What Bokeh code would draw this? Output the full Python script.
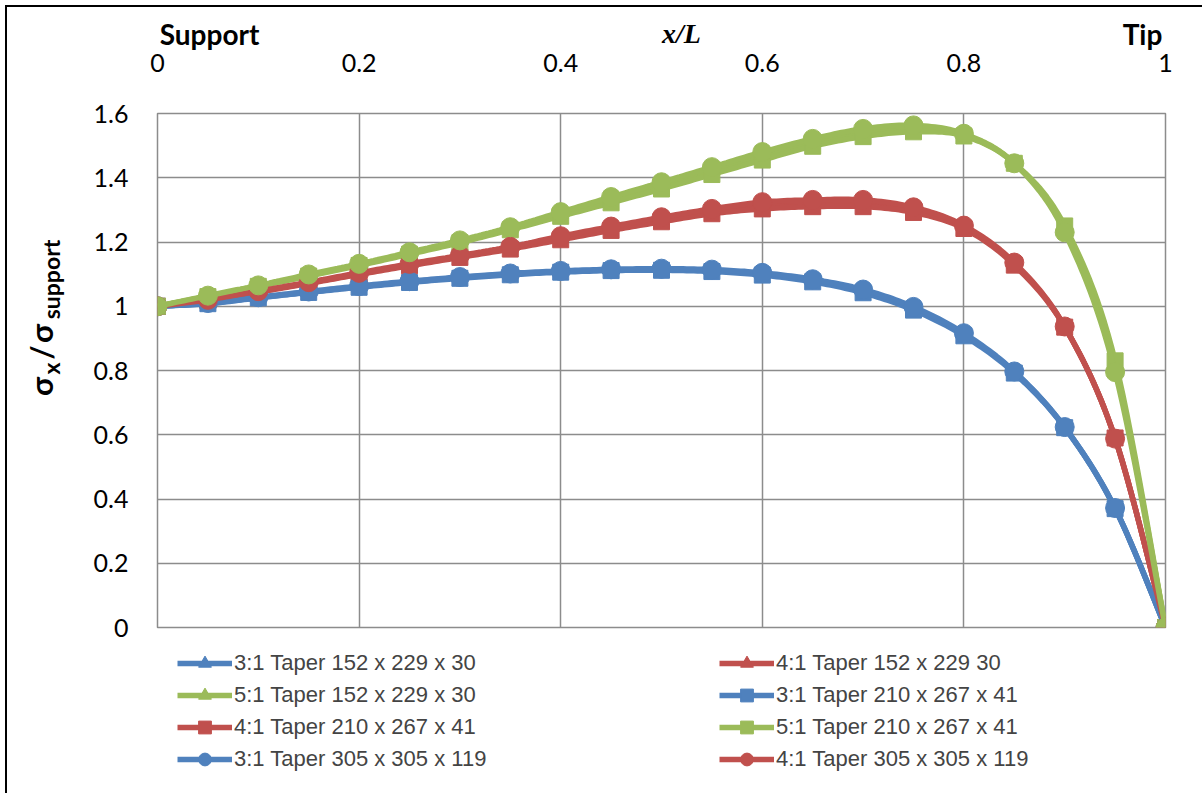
import numpy as np
from bokeh.plotting import figure
from bokeh.models import Range1d, FixedTicker, Legend, LegendItem, LinearAxis
from bokeh.embed import file_html
from bokeh.resources import INLINE

# ---------------- data ----------------
x_ratio = [0.0, 0.05, 0.10, 0.15, 0.20, 0.25, 0.30, 0.35, 0.40, 0.45, 0.50,
           0.55, 0.60, 0.65, 0.70, 0.75, 0.80, 0.85, 0.90, 0.95, 1.0]

taper3_152 = [1.000, 1.009, 1.027, 1.044, 1.061, 1.076, 1.089, 1.100, 1.108, 1.113, 1.114,
              1.111, 1.100, 1.080, 1.047, 0.993, 0.912, 0.795, 0.623, 0.371, 0.0]
taper4_152 = [1.000, 1.019, 1.045, 1.073, 1.101, 1.129, 1.155, 1.181, 1.212, 1.242, 1.270,
              1.295, 1.313, 1.320, 1.320, 1.300, 1.246, 1.132, 0.936, 0.589, 0.0]
taper5_152 = [1.000, 1.031, 1.063, 1.096, 1.129, 1.165, 1.201, 1.242, 1.286, 1.330, 1.375,
              1.420, 1.467, 1.510, 1.540, 1.553, 1.533, 1.445, 1.240, 0.812, 0.0]
taper3_210 = [1.000, 1.008, 1.026, 1.043, 1.059, 1.074, 1.087, 1.098, 1.106, 1.111, 1.112,
              1.108, 1.097, 1.076, 1.042, 0.988, 0.908, 0.792, 0.622, 0.370, 0.0]
taper4_210 = [1.000, 1.018, 1.044, 1.071, 1.099, 1.126, 1.152, 1.178, 1.207, 1.236, 1.263,
              1.288, 1.303, 1.310, 1.310, 1.292, 1.242, 1.128, 0.935, 0.590, 0.0]
taper5_210 = [1.000, 1.030, 1.062, 1.094, 1.127, 1.162, 1.198, 1.238, 1.280, 1.322, 1.365,
              1.410, 1.455, 1.498, 1.528, 1.543, 1.530, 1.445, 1.250, 0.830, 0.0]
taper3_305 = [1.000, 1.010, 1.028, 1.046, 1.063, 1.078, 1.091, 1.102, 1.110, 1.115, 1.117,
              1.114, 1.104, 1.084, 1.052, 0.998, 0.916, 0.797, 0.624, 0.372, 0.0]
taper4_305 = [1.000, 1.020, 1.047, 1.075, 1.104, 1.132, 1.158, 1.185, 1.218, 1.248, 1.277,
              1.303, 1.324, 1.331, 1.331, 1.308, 1.251, 1.136, 0.937, 0.588, 0.0]
taper5_305 = [1.000, 1.033, 1.065, 1.099, 1.132, 1.168, 1.205, 1.246, 1.293, 1.340, 1.386,
              1.433, 1.480, 1.521, 1.552, 1.563, 1.537, 1.445, 1.230, 0.795, 0.0]

series_names = ["3:1 Taper 152 x 229 x 30", "4:1 Taper 152 x 229 30", "5:1 Taper 152 x 229 x 30",
                "3:1 Taper 210 x 267 x 41", "4:1 Taper 210 x 267 x 41", "5:1 Taper 210 x 267 x 41",
                "3:1 Taper 305 x 305 x 119", "4:1 Taper 305 x 305 x 119", "5:1 Taper 305 x 305 x 119"]
series_values = [taper3_152, taper4_152, taper5_152,
                 taper3_210, taper4_210, taper5_210,
                 taper3_305, taper4_305, taper5_305]

x_ticks = [0, 0.2, 0.4, 0.6, 0.8, 1]
x_tick_labels = ["0", "0.2", "0.4", "0.6", "0.8", "1"]
y_ticks = [0, 0.2, 0.4, 0.6, 0.8, 1, 1.2, 1.4, 1.6]
y_tick_labels = ["0", "0.2", "0.4", "0.6", "0.8", "1", "1.2", "1.4", "1.6"]

# ---------------- styles ----------------
BLUE, RED, GREEN = "#4F81BD", "#C0504D", "#9BBB59"
colors = [BLUE, RED, GREEN] * 3
markers = ["triangle"] * 3 + ["square"] * 3 + ["circle"] * 3
marker_sizes = [15] * 3 + [16] * 3 + [19] * 3
GRID = "#8C8C8C"
TICK_FONT = "Lato"


def smooth(xs, ys, n=14):
    """Excel-like smoothed line (cubic Bezier through the points)."""
    xs = np.asarray(xs, float)
    ys = np.asarray(ys, float)
    px = np.concatenate([[xs[0]], xs, [xs[-1]]])
    py = np.concatenate([[ys[0]], ys, [ys[-1]]])
    ox, oy = [], []
    t = np.linspace(0, 1, n, endpoint=False)
    for i in range(1, len(px) - 2):
        x0, x1, x2, x3 = px[i - 1], px[i], px[i + 1], px[i + 2]
        y0, y1, y2, y3 = py[i - 1], py[i], py[i + 1], py[i + 2]
        c1x, c1y = x1 + (x2 - x0) / 6, y1 + (y2 - y0) / 6
        c2x, c2y = x2 - (x3 - x1) / 6, y2 - (y3 - y1) / 6
        a = (1 - t) ** 3
        b = 3 * (1 - t) ** 2 * t
        c = 3 * (1 - t) * t ** 2
        d = t ** 3
        ox.extend(a * x1 + b * c1x + c * c2x + d * x2)
        oy.extend(a * y1 + b * c1y + c * c2y + d * y2)
    ox.append(xs[-1])
    oy.append(ys[-1])
    return ox, oy


# pixel (in the reference picture) -> data helpers, for placing texts
def xpix(px):
    return (px - 157) / 1008


def ypix(py):
    return (627 - py) / 321.25


p = figure(frame_width=1008, frame_height=514,
           min_border_left=150, min_border_right=37, min_border_top=106, min_border_bottom=164,
           x_range=Range1d(0, 1), y_range=Range1d(0, 1.6),
           x_axis_location="above",
           output_backend="svg", toolbar_location=None)
p.styles = {"margin-left": "5px", "margin-top": "5px",
            "border-left": "2px solid black", "border-top": "2px solid black"}
p.background_fill_color = "white"
p.border_fill_color = "white"
p.outline_line_color = GRID
p.outline_line_width = 1.5

# grid
for g in (p.xgrid, p.ygrid):
    g.grid_line_color = GRID
    g.grid_line_width = 1.5
p.xgrid.ticker = FixedTicker(ticks=x_ticks)
p.ygrid.ticker = FixedTicker(ticks=y_ticks)


def plain(ax):
    ax.axis_line_color = None
    ax.major_tick_line_color = None
    ax.minor_tick_line_color = None
    ax.major_tick_out = 0
    ax.major_tick_in = 0
    ax.minor_tick_out = 0
    ax.minor_tick_in = 0
    ax.major_label_text_color = "black"


# main axes
xa = p.xaxis[0]
xa.ticker = FixedTicker(ticks=x_ticks)
xa.major_label_overrides = dict(zip(x_ticks, x_tick_labels))
ya = p.yaxis[0]
ya.ticker = FixedTicker(ticks=y_ticks)
ya.major_label_overrides = dict(zip(y_ticks, y_tick_labels))
for ax in (xa, ya):
    plain(ax)
    ax.major_label_text_font = TICK_FONT
    ax.major_label_text_font_size = "25px"
xa.major_label_standoff = 42
ya.major_label_standoff = 29

# "Support" / "Tip" row above the x tick labels
end_pos = [xpix(209), xpix(1142)]
end_labels = ["Support", "Tip"]
xa2 = LinearAxis(ticker=FixedTicker(ticks=end_pos),
                 major_label_overrides=dict(zip(end_pos, end_labels)))
plain(xa2)
xa2.major_label_text_font = "Lato"
xa2.major_label_text_font_style = "bold"
xa2.major_label_text_font_size = "28px"
xa2.major_label_standoff = 0
p.add_layout(xa2, "above")

# axis title x/L on the same row
title_pos = [xpix(681)]
xa3 = LinearAxis(ticker=FixedTicker(ticks=title_pos),
                 major_label_overrides=dict(zip(title_pos, ["x/L"])))
plain(xa3)
xa3.major_label_text_font = "Liberation Serif"
xa3.major_label_text_font_style = "bold italic"
xa3.major_label_text_font_size = "28px"
xa3.major_label_standoff = -35
p.add_layout(xa3, "above")

# rotated y-axis title  sigma_x / sigma_support  (main glyphs + subscripts)
main_pos = [ypix(386), ypix(352), ypix(333)]
ya2 = LinearAxis(ticker=FixedTicker(ticks=main_pos),
                 major_label_overrides=dict(zip(main_pos, ["σ", "/", "σ"])))
plain(ya2)
ya2.major_label_orientation = "vertical"
ya2.major_label_text_font = "Lato"
ya2.major_label_text_font_style = "bold"
ya2.major_label_text_font_size = "31px"
ya2.major_label_standoff = 31
p.add_layout(ya2, "left")

sub_pos = [ypix(368), ypix(279)]
ya3 = LinearAxis(ticker=FixedTicker(ticks=sub_pos),
                 major_label_overrides=dict(zip(sub_pos, ["x", "support"])))
plain(ya3)
ya3.major_label_orientation = "vertical"
ya3.major_label_text_font = "Lato"
ya3.major_label_text_font_style = "bold"
ya3.major_label_text_font_size = "23px"
ya3.major_label_standoff = -46
p.add_layout(ya3, "left")

# series
items = []
for name, vals, col, mk, ms in zip(series_names, series_values, colors, markers, marker_sizes):
    sx, sy = smooth(x_ratio, vals)
    lr = p.line(sx, sy, line_color=col, line_width=5.5)
    sr = p.scatter(x_ratio, vals, marker=mk, size=ms, fill_color=col, line_color=col)
    items.append(LegendItem(label=name, renderers=[lr, sr]))

legend = Legend(items=items[:8], orientation="horizontal", ncols=2,
                location="top_left", margin=20,
                glyph_width=55, glyph_height=32, label_height=32, label_width=485,
                label_standoff=2, spacing=0, padding=0,
                label_text_font="Liberation Sans", label_text_font_size="22px",
                border_line_color=None, background_fill_alpha=0)
p.add_layout(legend, "below")

open("out.html", "w").write(file_html(p, INLINE))
